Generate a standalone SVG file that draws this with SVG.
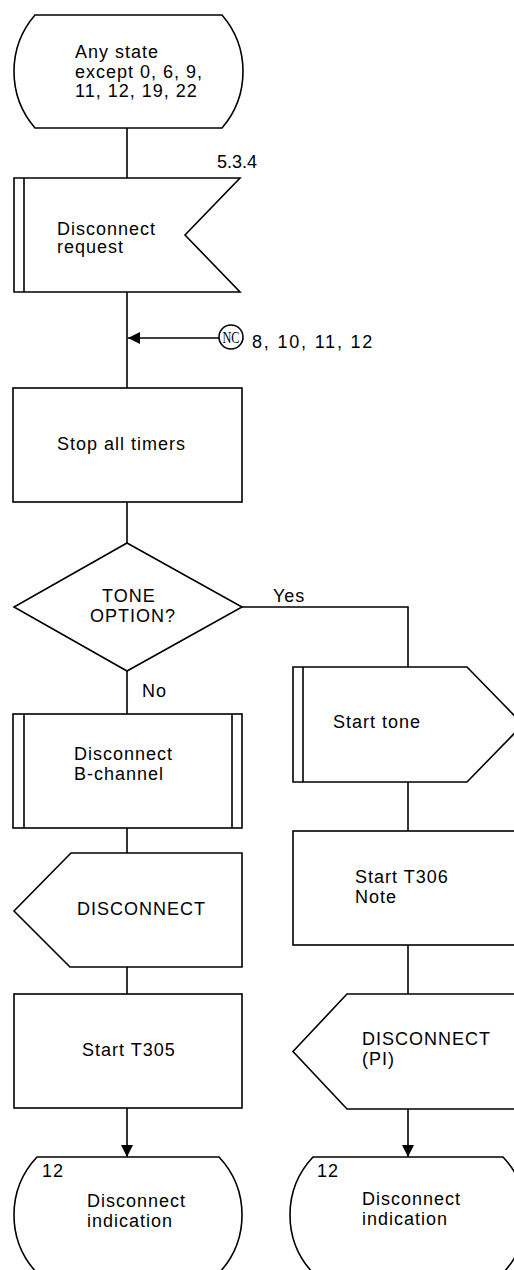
<svg xmlns="http://www.w3.org/2000/svg" width="514" height="1270" viewBox="0 0 514 1270">
<style>
.s{fill:#fff;stroke:#000;stroke-width:1.6;stroke-linejoin:miter}
.l{fill:none;stroke:#000;stroke-width:1.6}
.t{font-family:"Liberation Sans",Arial,sans-serif;font-size:18px;letter-spacing:1px;fill:#000}
.nc{font-family:"Liberation Serif","Times New Roman",serif;font-size:16px;fill:#000}
</style>
<defs>
<marker id="ah" viewBox="0 0 12 12" refX="12" refY="6" markerWidth="12" markerHeight="12" markerUnits="userSpaceOnUse" orient="auto">
<path d="M0,0 L12,6 L0,12 Z" fill="#000"/>
</marker>
</defs>
<rect width="514" height="1270" fill="#fff"/>
<g id="connectors">
<line class="l" x1="219" y1="338" x2="128" y2="338" marker-end="url(#ah)"/>
<line class="l" x1="127" y1="128" x2="127" y2="178"/>
<line class="l" x1="127" y1="292" x2="127" y2="388"/>
<line class="l" x1="127" y1="502" x2="127" y2="543"/>
<line class="l" x1="127" y1="671" x2="127" y2="714"/>
<polyline class="l" points="242,607 408,607 408,667"/>
<line class="l" x1="127" y1="828" x2="127" y2="853"/>
<line class="l" x1="127" y1="967" x2="127" y2="994"/>
<line class="l" x1="127" y1="1108" x2="127" y2="1157" marker-end="url(#ah)"/>
<line class="l" x1="408" y1="782" x2="408" y2="831"/>
<line class="l" x1="408" y1="945" x2="408" y2="994"/>
<line class="l" x1="408" y1="1109" x2="408" y2="1157" marker-end="url(#ah)"/>
<text class="t" x="273" y="602">Yes</text>
<text class="t" x="142" y="697">No</text>
</g>
<g id="start-state">
<path class="s" d="M35,15 H222 A86.5,86.5 0 0 1 222,128 H35 A86.5,86.5 0 0 1 35,15 Z"/>
<text class="t" x="75" y="58">Any state</text>
<text class="t" x="75" y="77.5">except 0, 6, 9,</text>
<text class="t" x="75" y="97">11, 12, 19, 22</text>
</g>
<g id="disconnect-request">
<path class="s" d="M14,178 H240 L185,235 L240,292 H14 Z"/>
<line class="l" x1="24" y1="178" x2="24" y2="292"/>
<text class="t" x="217" y="168" style="letter-spacing:0">5.3.4</text>
<text class="t" x="57" y="235">Disconnect</text>
<text class="t" x="57" y="253">request</text>
</g>
<g id="nc">
<circle class="s" cx="231" cy="337" r="12"/>
<text class="nc" x="222.5" y="342.5" textLength="17" lengthAdjust="spacingAndGlyphs">NC</text>
<text class="t" x="252" y="348" style="letter-spacing:1.8px">8, 10, 11, 12</text>
</g>
<g id="stop-timers">
<rect class="s" x="13" y="388" width="229" height="114"/>
<text class="t" x="57" y="450">Stop all timers</text>
</g>
<g id="tone-option">
<path class="s" d="M127,543 L242,607 L127,671 L14,607 Z"/>
<text class="t" x="102" y="602">TONE</text>
<text class="t" x="90" y="622">OPTION?</text>
</g>
<g id="disconnect-b">
<rect class="s" x="13" y="714" width="229" height="114"/>
<line class="l" x1="24" y1="714" x2="24" y2="828"/>
<line class="l" x1="232" y1="714" x2="232" y2="828"/>
<text class="t" x="74" y="760">Disconnect</text>
<text class="t" x="74" y="780">B-channel</text>
</g>
<g id="disconnect-out">
<path class="s" d="M71,853 H242 V967 H70 L14,911 Z"/>
<text class="t" x="77" y="915">DISCONNECT</text>
</g>
<g id="start-t305">
<rect class="s" x="14" y="994" width="228" height="114"/>
<text class="t" x="82" y="1056">Start T305</text>
</g>
<g id="state-12-left">
<path class="s" d="M37,1157 H219 A84.6,84.6 0 0 1 219,1273 H37 A84.6,84.6 0 0 1 37,1157 Z"/>
<text class="t" x="42" y="1177">12</text>
<text class="t" x="87" y="1207">Disconnect</text>
<text class="t" x="87" y="1227">indication</text>
</g>
<g id="start-tone">
<path class="s" d="M293,667 H467 L523,724.5 L467,782 H293 Z"/>
<line class="l" x1="303" y1="667" x2="303" y2="782"/>
<text class="t" x="333" y="728">Start tone</text>
</g>
<g id="start-t306">
<rect class="s" x="293" y="831" width="230" height="114"/>
<text class="t" x="355" y="883">Start T306</text>
<text class="t" x="355" y="903">Note</text>
</g>
<g id="disconnect-pi">
<path class="s" d="M347,994 H523 V1109 H347 L293,1051.5 Z"/>
<text class="t" x="362" y="1045">DISCONNECT</text>
<text class="t" x="362" y="1065">(PI)</text>
</g>
<g id="state-12-right">
<path class="s" d="M313,1157 H503 A84.6,84.6 0 0 1 503,1273 H313 A84.6,84.6 0 0 1 313,1157 Z"/>
<text class="t" x="317" y="1177">12</text>
<text class="t" x="362" y="1205">Disconnect</text>
<text class="t" x="362" y="1225">indication</text>
</g>
</svg>
